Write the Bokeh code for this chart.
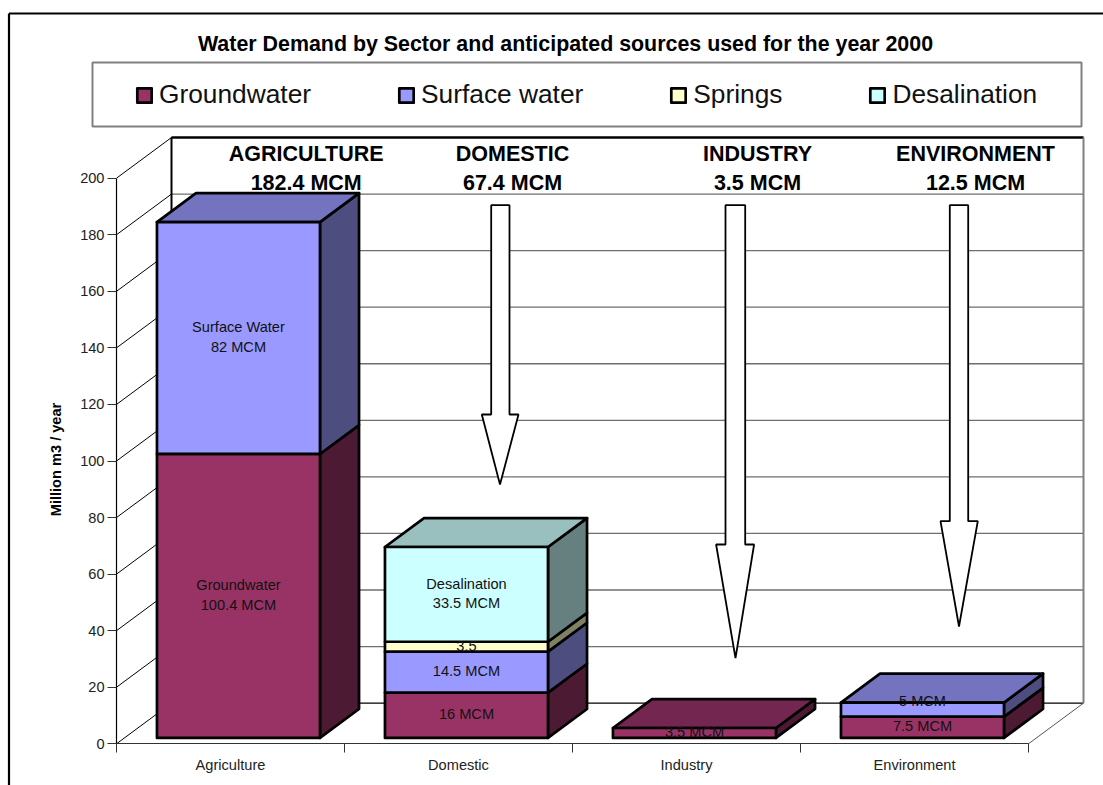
from bokeh.embed import file_html
from bokeh.resources import INLINE
from bokeh.core.properties import value
from bokeh.models import (ColumnDataSource, FixedTicker, Label, Legend,
                          LegendItem, LinearAxis, Range1d)
from bokeh.plotting import figure

# Water demand in million m3 per year
categories = ["Agriculture", "Domestic", "Industry", "Environment"]
groundwater = [100.4, 16.0, 3.5, 7.5]
surface_water = [82.0, 14.5, 0.0, 5.0]
springs = [0.0, 3.5, 0.0, 0.0]
desalination = [0.0, 33.5, 0.0, 0.0]

series_names = ["Groundwater", "Surface water", "Springs", "Desalination"]
segment_labels = [
    ["Groundwater\n100.4 MCM", "16 MCM", "3.5 MCM", "7.5 MCM"],
    ["Surface Water\n82 MCM", "14.5 MCM", "", "5 MCM"],
    ["", "3.5", "", ""],
    ["", "Desalination\n33.5 MCM", "", ""],
]
sector_heads = ["AGRICULTURE", "DOMESTIC", "INDUSTRY", "ENVIRONMENT"]
sector_totals = ["182.4 MCM", "67.4 MCM", "3.5 MCM", "12.5 MCM"]
y_ticks = [0, 20, 40, 60, 80, 100, 120, 140, 160, 180, 200]

FRONT = ["#993366", "#9999FF", "#FFFFCC", "#CCFFFF"]
SIDE = ["#4D1A33", "#4D4D80", "#808066", "#668080"]
TOP = ["#732650", "#7373BF", "#BFBF99", "#99BFBF"]

FONT = "Liberation Sans"
PAGE_W, PAGE_H = 1103, 785
LEFT, BOTTOM = 116, 743.3
CATEGORY_PX, UNIT_PX = 228.0, 2.828

# Oblique projection: depth 0..1 shifts a point right and up by these amounts
DEPTH_X = 55.0 / CATEGORY_PX
DEPTH_Y = 40.7 / UNIT_PX
GAP, D0, D1 = 0.1425, 0.145, 0.855


def to_x(px):
    return (px - LEFT) / CATEGORY_PX


def to_y(px):
    return (BOTTOM - px) / UNIT_PX


# The plot area fills the page; the axes are pinned inside it at the chart's origin
p = figure(width=PAGE_W, height=PAGE_H, output_backend="svg", toolbar_location=None,
           x_range=Range1d(to_x(0), to_x(PAGE_W)), y_range=Range1d(to_y(PAGE_H), to_y(0)),
           x_axis_location=None, y_axis_location=None,
           min_border=0, background_fill_color="white", border_fill_color="white")
p.grid.visible = False
p.outline_line_color = None

# Page frame: its right and bottom edges run off the page
p.segment(x0=[to_x(8.5), to_x(8.5)], y0=[to_y(13), to_y(13)],
          x1=[to_x(PAGE_W), to_x(8.5)], y1=[to_y(13), to_y(PAGE_H)],
          line_color="black", line_width=2.2)

# Outline around the legend
p.quad(left=[to_x(92)], right=[to_x(1081)], top=[to_y(62)], bottom=[to_y(126)],
       fill_color=None, line_color="#808080", line_width=2)

# Axes along the front edge of the floor and the left wall
yaxis = LinearAxis(ticker=FixedTicker(ticks=y_ticks), bounds=(0, 200), fixed_location=0,
                   major_label_text_font=FONT, major_label_text_font_size="14.6px",
                   major_label_text_color="#222222", major_label_standoff=3,
                   major_tick_in=0, major_tick_out=9, minor_tick_in=0, minor_tick_out=0,
                   major_tick_line_color="#333333", axis_line_color="black", axis_line_width=1.2)
p.add_layout(yaxis, "left")

xaxis = LinearAxis(ticker=FixedTicker(ticks=[0.5, 1.5, 2.5, 3.5], minor_ticks=[0, 1, 2, 3, 4]),
                   bounds=(0, 4), fixed_location=0,
                   major_label_text_font=FONT, major_label_text_font_size="14.6px",
                   major_label_text_color="#222222", major_label_standoff=4,
                   major_label_overrides={i + 0.5: c for i, c in enumerate(categories)},
                   major_tick_in=0, major_tick_out=0, minor_tick_in=0, minor_tick_out=9,
                   minor_tick_line_color="#333333", axis_line_color="#333333", axis_line_width=1.2)
p.add_layout(xaxis, "below")

# Back wall, its gridlines and the matching lines on the left wall
grid_top = [t + DEPTH_Y for t in y_ticks]
p.segment(x0=[DEPTH_X] * 9, x1=[4 + DEPTH_X] * 9, y0=grid_top[1:10], y1=grid_top[1:10],
          line_color="#6E6E6E", line_width=1.3)
p.segment(x0=[DEPTH_X] * 2, x1=[4 + DEPTH_X] * 2, y0=[DEPTH_Y, grid_top[10]], y1=[DEPTH_Y, grid_top[10]],
          line_color="black", line_width=1.2)
p.segment(x0=[0] * 11, x1=[DEPTH_X] * 11, y0=y_ticks, y1=grid_top, line_color="black", line_width=1)
p.segment(x0=[4], x1=[4 + DEPTH_X], y0=[0], y1=[DEPTH_Y], line_color="#555555", line_width=1)
p.segment(x0=[DEPTH_X], x1=[DEPTH_X], y0=[DEPTH_Y], y1=[200 + DEPTH_Y], line_color="black", line_width=2)
p.segment(x0=[DEPTH_X], x1=[4 + DEPTH_X], y0=[200 + DEPTH_Y], y1=[200 + DEPTH_Y],
          line_color="black", line_width=2.5)
p.segment(x0=[4 + DEPTH_X], x1=[4 + DEPTH_X], y0=[DEPTH_Y], y1=[200 + DEPTH_Y],
          line_color="#808080", line_width=2)

# Arrows from the sector headings towards the bars, given in page pixels
arrows = [(490.7, 509, 414, 481.3, 518, 499.5, 484),
          (725, 744.7, 544, 715.6, 753.6, 735, 657.7),
          (949.3, 967.7, 520.7, 940, 977.3, 958.5, 626)]
arrow_xs, arrow_ys = [], []
for a, b, sh, h0, h1, tx, ty in arrows:
    arrow_xs.append([to_x(v) for v in (a, b, b, h1, tx, h0, a, a)])
    arrow_ys.append([to_y(v) for v in (204.7, 204.7, sh, sh, ty, sh, sh, 204.7)])
p.patches(arrow_xs, arrow_ys, fill_color="white", line_color="black", line_width=1.8)

# Stacked boxes, drawn bottom-up so upper faces overlap lower ones
stack = [groundwater, surface_water, springs, desalination]
base = [0.0] * 4
totals = [sum(col) for col in zip(*stack)]
legend_items = []
label_x, label_y, label_text, label_dy = [], [], [], []
dx0, dx1 = D0 * DEPTH_X, D1 * DEPTH_X
dy0, dy1 = D0 * DEPTH_Y, D1 * DEPTH_Y
for s, values in enumerate(stack):
    front_x, front_y, side_x, side_y, top_x, top_y = [], [], [], [], [], []
    for i, v in enumerate(values):
        if v <= 0:
            continue
        x0, x1 = i + GAP, i + 1 - GAP
        y0, y1 = base[i], base[i] + v
        front_x.append([x0 + dx0, x1 + dx0, x1 + dx0, x0 + dx0])
        front_y.append([y0 + dy0, y0 + dy0, y1 + dy0, y1 + dy0])
        side_x.append([x1 + dx0, x1 + dx1, x1 + dx1, x1 + dx0])
        side_y.append([y0 + dy0, y0 + dy1, y1 + dy1, y1 + dy0])
        if abs(y1 - totals[i]) < 1e-9:
            top_x.append([x0 + dx0, x1 + dx0, x1 + dx1, x0 + dx1])
            top_y.append([y1 + dy0, y1 + dy0, y1 + dy1, y1 + dy1])
        if segment_labels[s][i]:
            label_x.append((x0 + x1) / 2 + dx0)
            label_y.append((y0 + y1) / 2 + dy0)
            label_text.append(segment_labels[s][i])
            # The "5 MCM" label sits higher than its segment's centre
            label_dy.append(-9 if segment_labels[s][i] == "5 MCM" else -1)
        base[i] = y1
    style = dict(line_color="black", line_width=2.7, line_join="round")
    p.patches(side_x, side_y, fill_color=SIDE[s], **style)
    if top_x:
        p.patches(top_x, top_y, fill_color=TOP[s], **style)
    front = p.patches(front_x, front_y, fill_color=FRONT[s], **style)
    legend_items.append(LegendItem(label=series_names[s], renderers=[front]))

p.text(x="x", y="y", text="text", y_offset="dy",
       source=ColumnDataSource(dict(x=label_x, y=label_y, text=label_text, dy=label_dy)),
       text_align="center", text_baseline="middle", text_font=value(FONT),
       text_font_size="14.6px", text_line_height=1.2, text_color="#111111")

# Sector headings above the chart's top grid line
head_centres = [305.7, 512, 757, 975]
head_style = dict(text_align="center", text_baseline="middle", text_font=value(FONT),
                  text_font_size="21.5px", text_font_style="bold", text_color="black")
p.text(x=[to_x(c) for c in head_centres], y=[to_y(153)] * 4, text=sector_heads, **head_style)
p.text(x=[to_x(c) for c in head_centres], y=[to_y(182)] * 4, text=sector_totals, **head_style)

# Chart title and the vertical axis title
p.add_layout(Label(x=to_x(565), y=to_y(43), text="Water Demand by Sector and anticipated sources used for the year 2000",
                   text_align="center", text_baseline="middle", text_font=FONT,
                   text_font_size="21.4px", text_font_style="bold", text_color="black"))
p.add_layout(Label(x=to_x(55.5), y=to_y(459), text="Million m3 / year", angle=90, angle_units="deg",
                   text_align="center", text_baseline="middle", text_font=FONT,
                   text_font_size="14.6px", text_font_style="bold", text_color="black"))

legend = Legend(items=legend_items, orientation="horizontal", location=(135, PAGE_H - 110),
                label_text_font=FONT, label_text_font_size="26.3px", label_text_color="#111111",
                label_standoff=6, glyph_width=18, glyph_height=18, spacing=86, padding=17,
                margin=0, border_line_color=None, label_height=30, background_fill_alpha=0)
p.add_layout(legend, "center")

open("out.html", "w").write(file_html(p, INLINE))
